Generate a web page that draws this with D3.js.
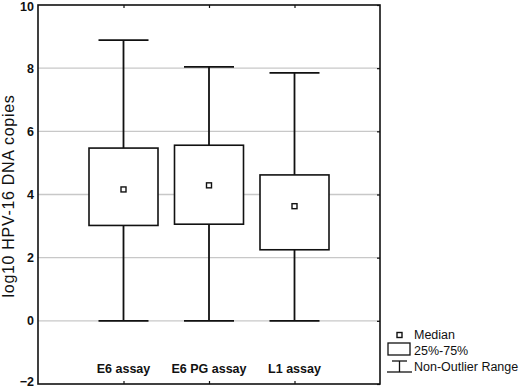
<!DOCTYPE html>
<html><head><meta charset="utf-8">
<script src="https://cdn.jsdelivr.net/npm/d3@7"></script>
<style>body{margin:0;background:#fff}svg{display:block;font-family:"Liberation Sans",Arial,Helvetica,sans-serif}</style>
</head><body><svg id="c" width="520" height="389"></svg>
<script>
const categories = ["E6 assay", "E6 PG assay", "L1 assay"];
const mins    = [0, 0, 0];
const q1      = [3.02, 3.06, 2.25];
const medians = [4.16, 4.29, 3.63];
const q3      = [5.47, 5.56, 4.62];
const maxs    = [8.89, 8.04, 7.85];
const yTicks  = [-2, 0, 2, 4, 6, 8, 10];
const yTitle  = "log10 HPV-16 DNA copies";
const legendLabels = ["Median", "25%-75%", "Non-Outlier Range"];

const svg = d3.select("#c");
const L = 38, R = 380, T = 5, B = 384;
const x = d3.scaleLinear().domain([0, 4]).range([L, R]);
const y = d3.scaleLinear().domain([-2, 10]).range([B, T]);

// gridlines
svg.append("g").selectAll("line").data(yTicks.filter(t => t > -2 && t < 10)).join("line")
  .attr("x1", L).attr("x2", R).attr("y1", d => y(d)).attr("y2", d => y(d))
  .attr("stroke", "#c8c8c8").attr("stroke-width", 1.3);

// y axis labels
const ya = svg.append("g").attr("transform", `translate(${L},0)`)
  .call(d3.axisLeft(y).tickValues(yTicks).tickSize(0).tickPadding(4));
ya.select(".domain").remove();
ya.selectAll("text").attr("font-size", 12.5).attr("font-weight", "bold").attr("fill", "#111")
  .attr("font-family", "Liberation Sans, Arial, sans-serif")
  .attr("dy", d => d === 10 ? "0.45em" : d === -2 ? "0.1em" : "0.32em");

// right axis inner ticks
svg.append("g").attr("transform", `translate(${R},0)`)
  .call(d3.axisLeft(y).tickValues(yTicks).tickSize(3).tickFormat(""))
  .select(".domain").remove();

// top & bottom category ticks
const idx = categories.map((c, i) => i + 1);
const xb = svg.append("g").attr("transform", `translate(0,${B})`)
  .call(d3.axisTop(x).tickValues(idx).tickSize(3).tickFormat(""));
xb.select(".domain").remove();
const xt = svg.append("g").attr("transform", `translate(0,${T})`)
  .call(d3.axisBottom(x).tickValues(idx).tickSize(3).tickFormat(""));
xt.select(".domain").remove();
svg.selectAll(".tick line").attr("stroke", "#111").attr("stroke-width", 1.2);

// category labels
svg.append("g").selectAll("text").data(categories).join("text")
  .attr("x", (d, i) => x(i + 1)).attr("y", 373)
  .attr("text-anchor", "middle").attr("font-size", 12.5).attr("font-weight", "bold").attr("fill", "#111")
  .text(d => d);

// boxes
const boxW = 69, capW = 50;
const g = svg.append("g").selectAll("g").data(categories).join("g");
g.append("line").attr("x1", (d, i) => x(i + 1)).attr("x2", (d, i) => x(i + 1))
  .attr("y1", (d, i) => y(maxs[i])).attr("y2", (d, i) => y(mins[i]))
  .attr("stroke", "#111").attr("stroke-width", 1.8);
g.append("line").attr("x1", (d, i) => x(i + 1) - capW / 2).attr("x2", (d, i) => x(i + 1) + capW / 2)
  .attr("y1", (d, i) => y(maxs[i])).attr("y2", (d, i) => y(maxs[i]))
  .attr("stroke", "#111").attr("stroke-width", 1.8);
g.append("line").attr("x1", (d, i) => x(i + 1) - capW / 2).attr("x2", (d, i) => x(i + 1) + capW / 2)
  .attr("y1", (d, i) => y(mins[i])).attr("y2", (d, i) => y(mins[i]))
  .attr("stroke", "#111").attr("stroke-width", 1.8);
g.append("rect").attr("x", (d, i) => x(i + 1) - boxW / 2).attr("width", boxW)
  .attr("y", (d, i) => y(q3[i])).attr("height", (d, i) => y(q1[i]) - y(q3[i]))
  .attr("fill", "#fff").attr("stroke", "#111").attr("stroke-width", 1.6);
g.append("rect").attr("x", (d, i) => x(i + 1) - 2.5).attr("width", 5)
  .attr("y", (d, i) => y(medians[i]) - 2.5).attr("height", 5)
  .attr("fill", "#fff").attr("stroke", "#111").attr("stroke-width", 1.4);

// frame
svg.append("rect").attr("x", L).attr("y", T).attr("width", R - L).attr("height", B - T)
  .attr("fill", "none").attr("stroke", "#111").attr("stroke-width", 1.6);

// y title
svg.append("text").attr("transform", `translate(14,196) rotate(-90)`)
  .attr("text-anchor", "middle").attr("font-size", 16).attr("fill", "#111")
  .attr("letter-spacing", 0.7).text(yTitle);

// legend
const lg = svg.append("g");
lg.append("rect").attr("x", 397).attr("y", 332.5).attr("width", 5).attr("height", 5)
  .attr("fill", "#fff").attr("stroke", "#111").attr("stroke-width", 1.4);
lg.append("rect").attr("x", 388).attr("y", 343).attr("width", 22).attr("height", 12)
  .attr("fill", "#fff").attr("stroke", "#111").attr("stroke-width", 1.3);
lg.append("line").attr("x1", 392).attr("x2", 407).attr("y1", 361).attr("y2", 361).attr("stroke", "#111").attr("stroke-width", 1.3);
lg.append("line").attr("x1", 399.5).attr("x2", 399.5).attr("y1", 361).attr("y2", 372).attr("stroke", "#111").attr("stroke-width", 1.3);
lg.append("line").attr("x1", 387).attr("x2", 412).attr("y1", 372).attr("y2", 372).attr("stroke", "#111").attr("stroke-width", 1.3);
lg.selectAll("text").data(legendLabels).join("text")
  .attr("x", 414).attr("y", (d, i) => [339, 355, 371][i])
  .attr("font-size", 12.5).attr("fill", "#111").text(d => d);
</script></body></html>
